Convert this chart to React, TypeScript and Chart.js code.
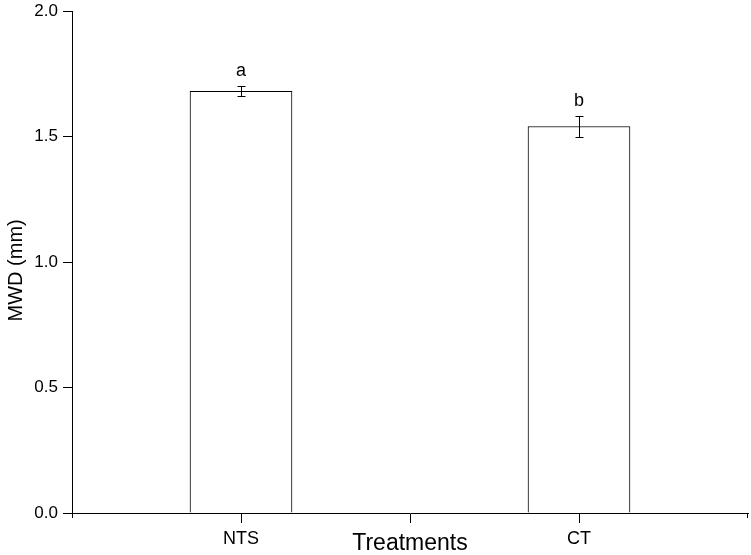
import React, { useEffect, useRef } from "react";
import { Chart, registerables } from "chart.js";

Chart.register(...registerables);

const categories = ["NTS", "CT"];
const means = [1.68, 1.54];
const errors = [0.02, 0.04];
const letters = ["a", "b"];
const yTickValues = [0, 0.5, 1.0, 1.5, 2.0];

const FONT = "'Liberation Sans', Arial, sans-serif";

// x axis has slots: edge, NTS, middle, CT, edge
const xLabels = ["", categories[0], "", categories[1], ""];
const barData = [null, means[0], null, means[1], null];
const errData = [null, errors[0], null, errors[1], null];
const letterData = [null, letters[0], null, letters[1], null];

const extrasPlugin = {
  id: "extras",
  afterDatasetsDraw(chart: any) {
    const ctx = chart.ctx;
    const meta = chart.getDatasetMeta(0);
    const y = chart.scales.y;
    const area = chart.chartArea;
    ctx.save();
    ctx.strokeStyle = "#000";
    ctx.lineWidth = 1;
    ctx.fillStyle = "#000";
    ctx.font = `18px ${FONT}`;
    ctx.textAlign = "center";
    ctx.textBaseline = "alphabetic";
    barData.forEach((v, i) => {
      if (v == null) return;
      const el = meta.data[i];
      const x = Math.round(el.x) + 0.5;
      const e = errData[i] as number;
      const yt = Math.round(y.getPixelForValue(v + e)) + 0.5;
      const yb = Math.round(y.getPixelForValue(v - e)) + 0.5;
      ctx.beginPath();
      ctx.moveTo(x, yt);
      ctx.lineTo(x, yb);
      ctx.moveTo(x - 4, yt);
      ctx.lineTo(x + 4, yt);
      ctx.moveTo(x - 4, yb);
      ctx.lineTo(x + 4, yb);
      ctx.stroke();
      ctx.fillText(letterData[i] as string, el.x, yt - 11);
    });
    // short end ticks on the x axis
    ctx.beginPath();
    ctx.moveTo(Math.round(area.left) + 0.5, area.bottom);
    ctx.lineTo(Math.round(area.left) + 0.5, area.bottom + 5);
    ctx.moveTo(Math.round(area.right) - 0.5, area.bottom);
    ctx.lineTo(Math.round(area.right) - 0.5, area.bottom + 5);
    ctx.stroke();
    ctx.restore();
  },
};

export default function App() {
  const ref = useRef<HTMLCanvasElement>(null);
  useEffect(() => {
    if (!ref.current) return;
    const chart = new Chart(ref.current, {
      type: "bar",
      data: {
        labels: xLabels,
        datasets: [
          {
            data: barData as any,
            backgroundColor: "#ffffff",
            borderColor: "#000000",
            borderWidth: 1,
            barThickness: 102,
          },
        ],
      },
      options: {
        responsive: false,
        animation: false,
        devicePixelRatio: 1,
        layout: { padding: { top: 11, right: 3, left: 0, bottom: 0 } },
        plugins: { legend: { display: false }, tooltip: { enabled: false } },
        scales: {
          x: {
            type: "category",
            offset: false,
            grid: {
              display: true,
              offset: false,
              drawOnChartArea: false,
              drawTicks: true,
              tickLength: 10,
              tickColor: (c: any) =>
                c.index === 0 || c.index === xLabels.length - 1 ? "rgba(0,0,0,0)" : "#000",
              tickWidth: 1,
            },
            border: { display: true, color: "#000", width: 1 },
            ticks: {
              color: "#000",
              font: { family: FONT, size: 18 },
              padding: 5,
              autoSkip: false,
              maxRotation: 0,
            },
            title: {
              display: true,
              text: "Treatments",
              color: "#000",
              font: { family: FONT, size: 23, lineHeight: 1.0 },
              padding: { top: 0, bottom: 0 },
            },
            afterFit: (s: any) => {
              s.height = 42;
              s.paddingLeft = 0;
              s.paddingRight = 0;
            },
          },
          y: {
            min: 0,
            max: 2,
            afterBuildTicks: (s: any) => {
              s.ticks = yTickValues.map((v) => ({ value: v }));
            },
            grid: {
              display: true,
              drawOnChartArea: false,
              drawTicks: true,
              tickLength: 9,
              tickColor: "#000",
            },
            border: { display: true, color: "#000", width: 1 },
            ticks: {
              color: "#000",
              font: { family: FONT, size: 17 },
              padding: 5,
              callback: (v: any) => Number(v).toFixed(1),
            },
            title: {
              display: true,
              text: "MWD (mm)   ",
              color: "#000",
              font: { family: FONT, size: 20 },
              padding: { top: 4, bottom: 0 },
            },
            afterFit: (s: any) => {
              s.width = 72;
              s.paddingTop = 0;
              s.paddingBottom = 0;
            },
          },
        },
      },
      plugins: [extrasPlugin],
    });
    return () => chart.destroy();
  }, []);
  return (
    <div style={{ position: "absolute", left: 0, top: 0, width: 751, height: 555, background: "#fff" }}>
      <canvas ref={ref} width={751} height={555} />
    </div>
  );
}
